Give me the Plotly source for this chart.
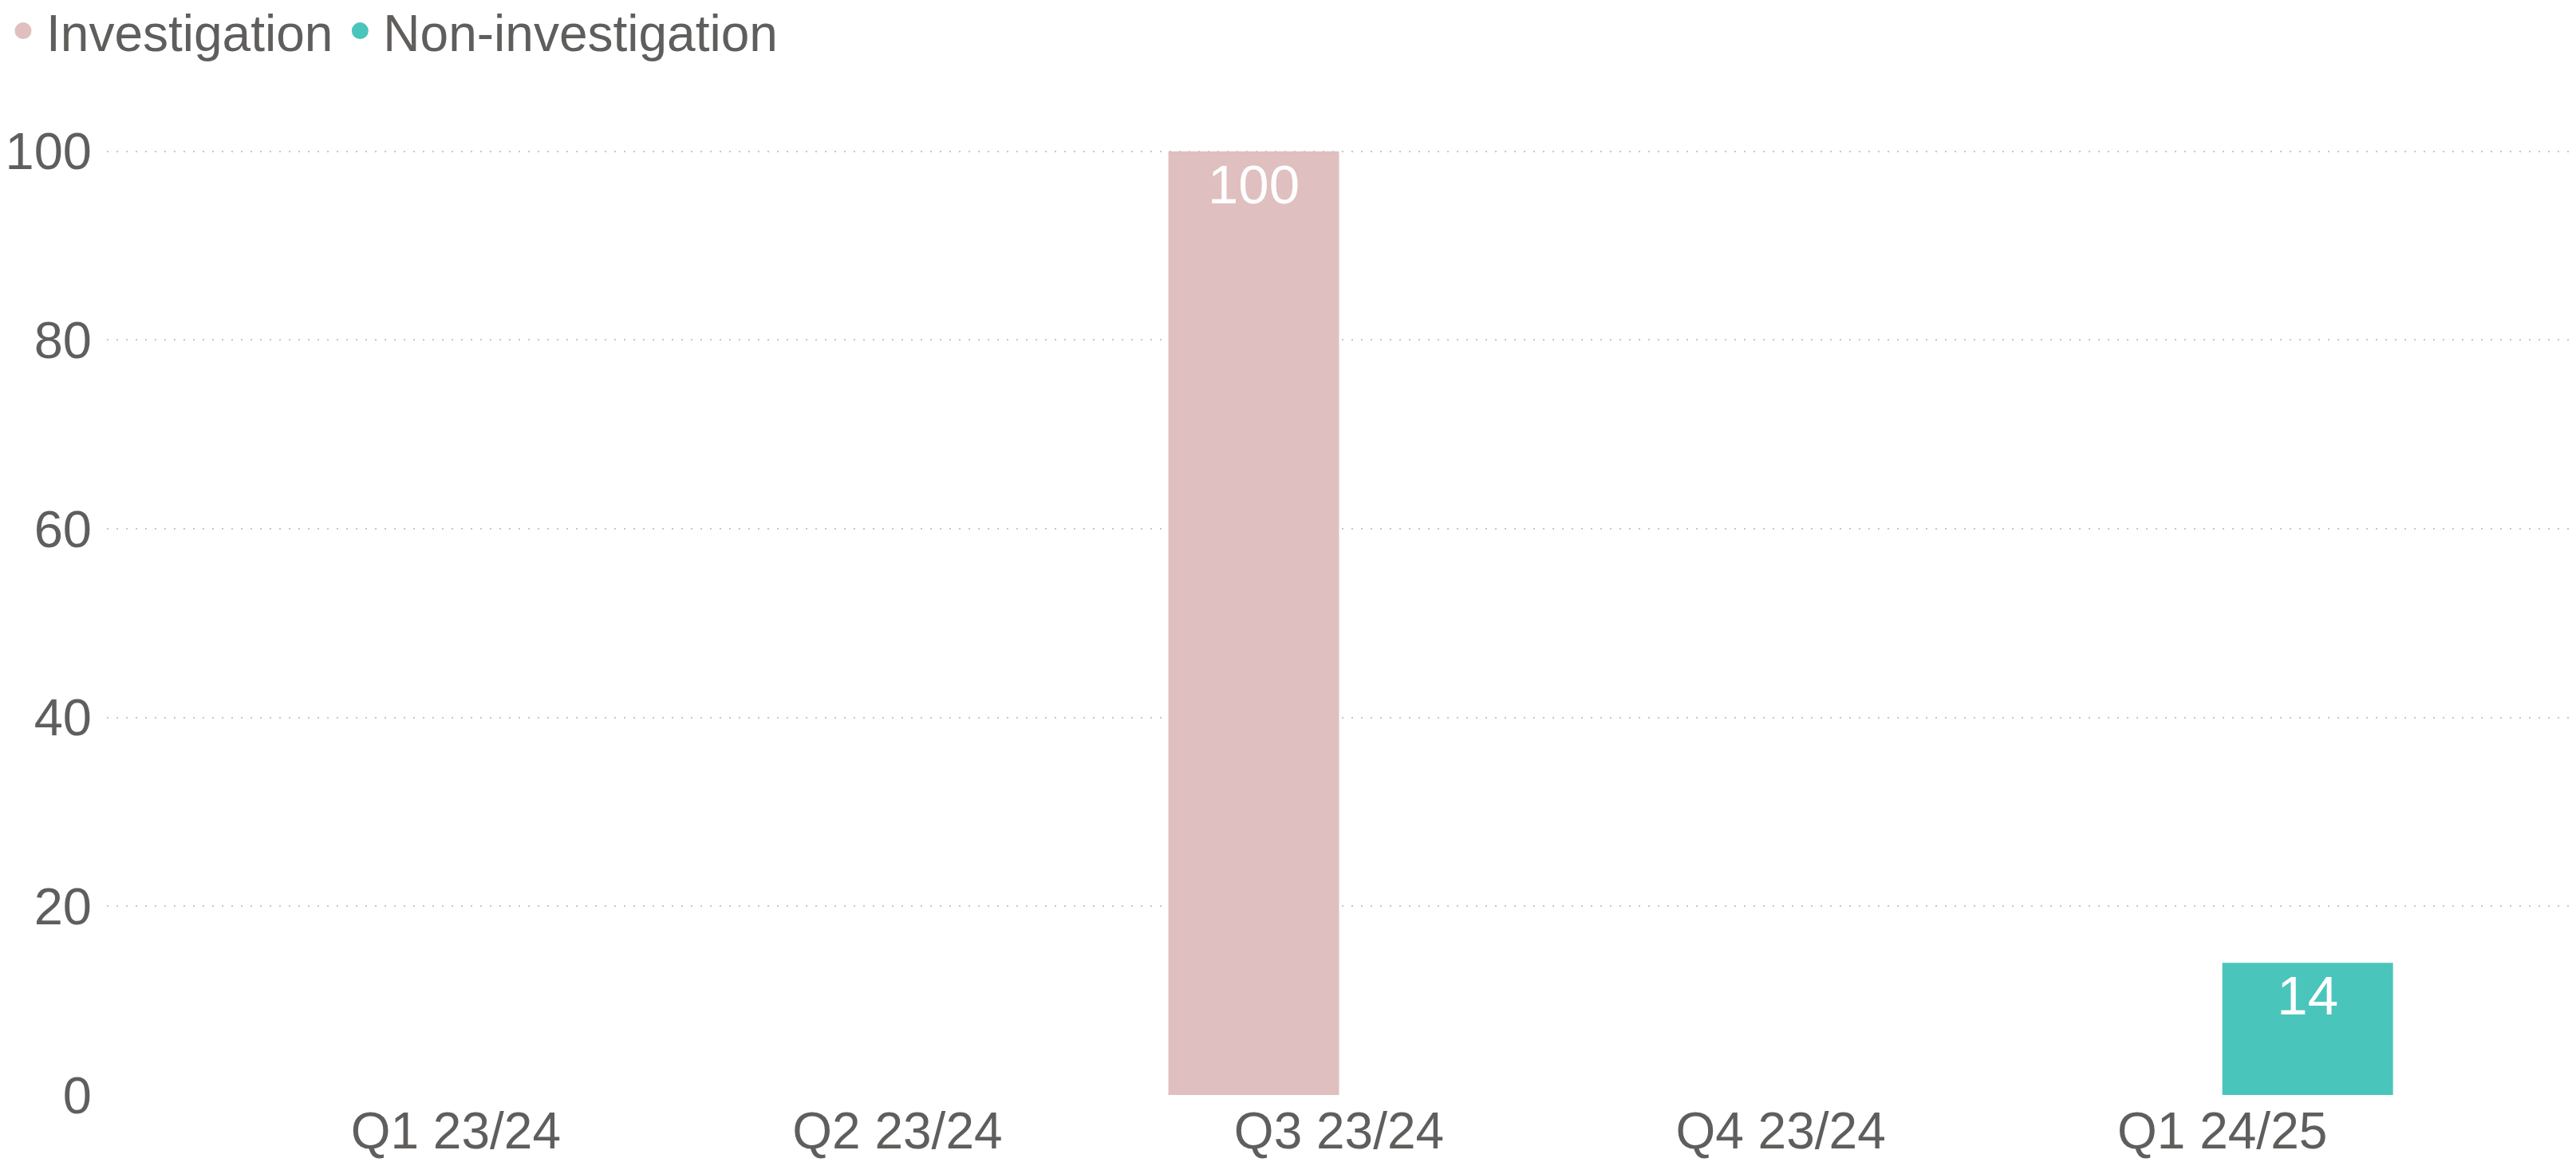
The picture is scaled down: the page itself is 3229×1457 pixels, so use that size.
import plotly.graph_objects as go

categories = ["Q1 23/24", "Q2 23/24", "Q3 23/24", "Q4 23/24", "Q1 24/25"]
investigation = [None, None, 100, None, None]
non_investigation = [None, None, None, None, 14]
series_names = ["Investigation", "Non-investigation"]
colors = ["#DFBFBF", "#4AC5BB"]
y_ticks = [0, 20, 40, 60, 80, 100]

FONT = "Arial, Liberation Sans, sans-serif"
GREY = "#605E5C"

fig = go.Figure()
for name, vals, col in zip(series_names, [investigation, non_investigation], colors):
    fig.add_trace(go.Bar(
        x=categories, y=vals, name=name, marker=dict(color=col, line=dict(width=0)),
        texttemplate="%{y}", textposition="inside", insidetextanchor="end",
        textangle=0, constraintext="none",
        textfont=dict(color="white", size=69, family=FONT),
        showlegend=False, hoverinfo="x+y+name",
    ))
for name, col in zip(series_names, colors):
    fig.add_trace(go.Scatter(
        x=[None], y=[None], mode="markers", name=name,
        marker=dict(symbol="circle", size=16, color=col, line=dict(color=col, width=5)),
        showlegend=True,
    ))

fig.update_layout(
    width=3229, height=1457,
    margin=dict(l=134, r=6, t=166, b=84),
    paper_bgcolor="white", plot_bgcolor="white",
    barmode="group", bargap=0.227, bargroupgap=0,
    font=dict(family=FONT, color=GREY, size=64),
    legend=dict(orientation="h", xref="container", yref="container",
                x=0.0, y=1 - 39 / 1457, xanchor="left", yanchor="middle",
                itemwidth=48,
                font=dict(size=64, color=GREY, family=FONT),
                itemclick=False, bgcolor="rgba(0,0,0,0)"),
    xaxis=dict(type="category", range=[-0.79, 4.79], showgrid=False, zeroline=False,
               showline=False, ticks="", ticklabelstandoff=2, automargin=False,
               tickfont=dict(size=64, color=GREY, family=FONT)),
    yaxis=dict(range=[0, 102], tickvals=y_ticks, showgrid=True, automargin=False,
               gridcolor="rgb(200,198,196)", gridwidth=2, griddash="2px,10px",
               zeroline=False, showline=False, ticks="", ticklabelstandoff=18,
               tickfont=dict(size=65, color=GREY, family=FONT)),
)

fig.write_html("out.html", config={"displayModeBar": False},
               post_script="document.body.style.margin='0px';")
